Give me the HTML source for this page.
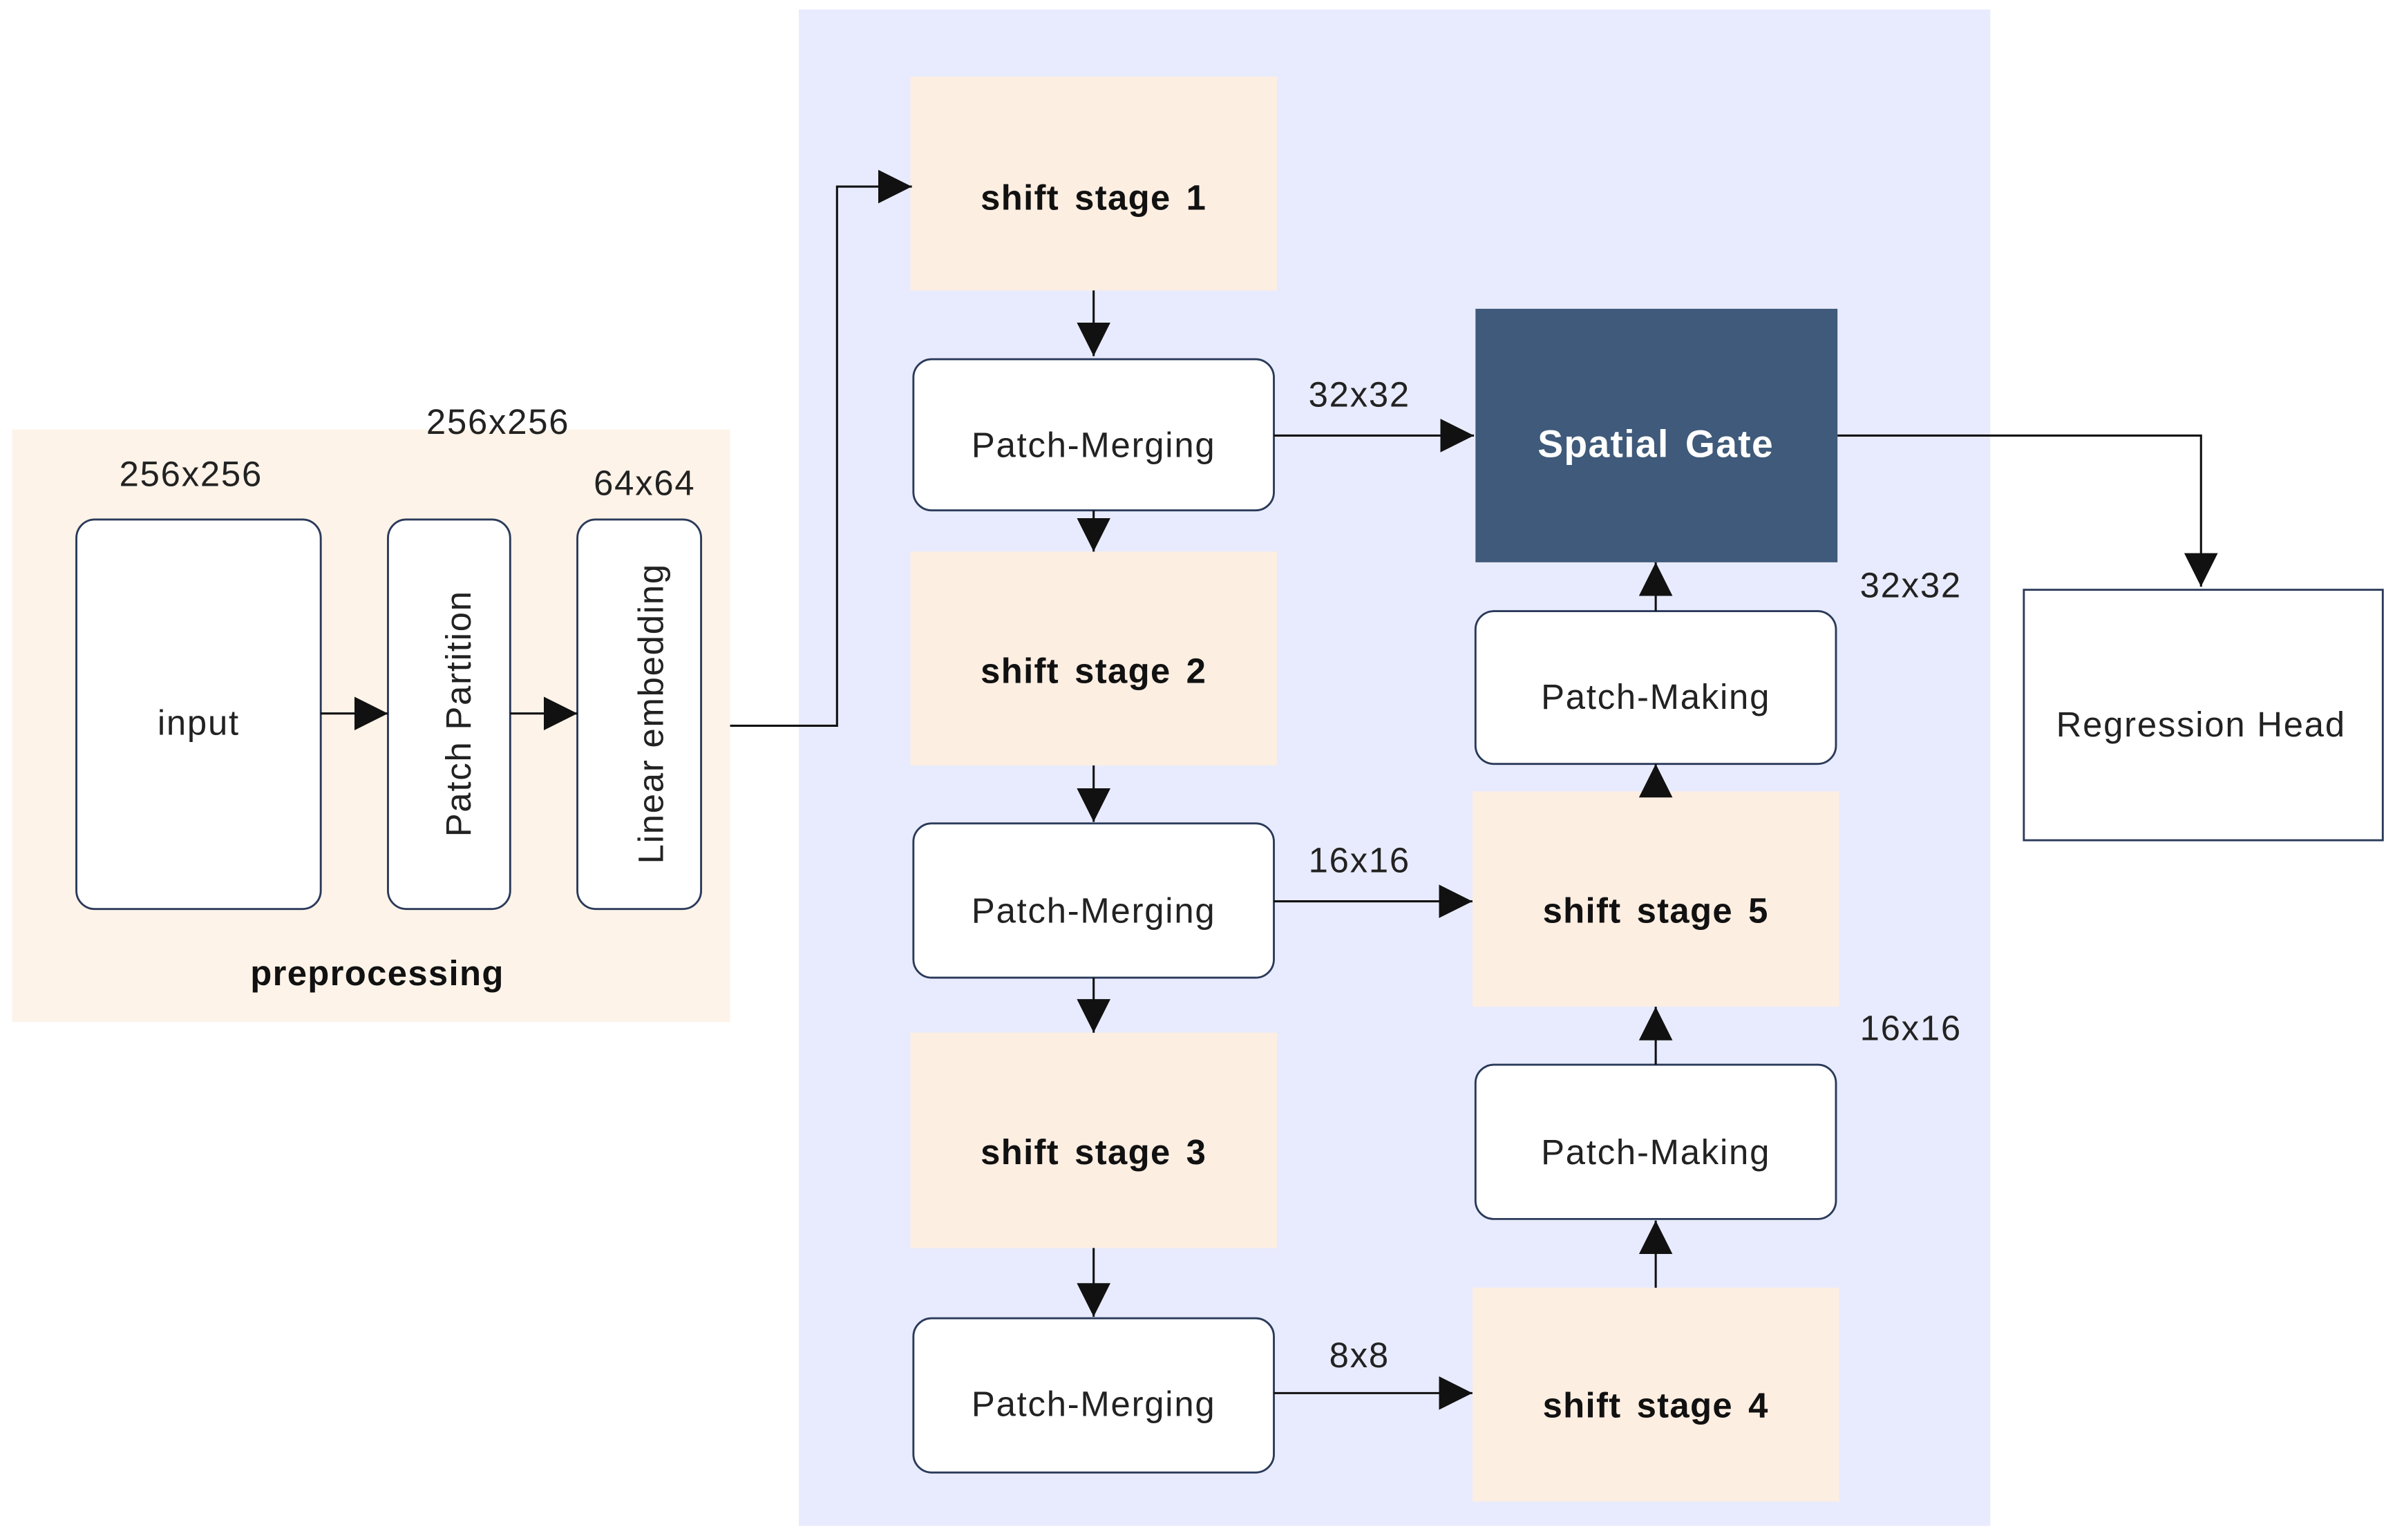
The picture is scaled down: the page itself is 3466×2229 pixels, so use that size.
<!DOCTYPE html>
<html><head><meta charset="utf-8"><style>html,body{margin:0;padding:0;background:#fff}svg{display:block}</style></head>
<body>
<svg width="3466" height="2229" viewBox="0 0 1568 1008" xmlns="http://www.w3.org/2000/svg" font-family="'Liberation Sans', sans-serif">
<defs>
<marker id="b" viewBox="0 0 10 10" markerWidth="22" markerHeight="22" refX="10" refY="5" orient="auto" markerUnits="userSpaceOnUse"><path d="M0,0 L10,5 L0,10 z" fill="#111"/></marker></defs>
<rect x="8" y="281" width="470" height="388" fill="#fdf3e8"/>
<rect x="523" y="6" width="780" height="993" fill="#e8ebfd"/>
<g fill="#fff" stroke="#2a3a5a" stroke-width="1.3">
<rect x="50" y="340" width="160" height="255" rx="12"/>
<rect x="254" y="340" width="80" height="255" rx="12"/>
<rect x="378" y="340" width="81" height="255" rx="12"/>
<rect x="598" y="235" width="236" height="99" rx="12"/>
<rect x="598" y="539" width="236" height="101" rx="12"/>
<rect x="598" y="863" width="236" height="101" rx="12"/>
<rect x="966" y="400" width="236" height="100" rx="12"/>
<rect x="966" y="697" width="236" height="101" rx="12"/>
</g>
<rect x="1325" y="386" width="235" height="164" fill="#fff" stroke="#2a3a5a" stroke-width="1.3"/>
<g fill="#fdeee2">
<rect x="596" y="50" width="240" height="140"/>
<rect x="596" y="361" width="240" height="140"/>
<rect x="596" y="676" width="240" height="141"/>
<rect x="964" y="518" width="240" height="141"/>
<rect x="964" y="843" width="240" height="140"/>
</g>
<rect x="966" y="202" width="237" height="166" fill="#3f5a7a"/>
<g stroke="#111" stroke-width="1.4" fill="none" marker-end="url(#b)">
<path d="M210,467 H254"/><path d="M334,467 H378"/>
<path d="M478,475 H548 V122 H597"/>
<path d="M716,190 V233"/><path d="M716,334 V361"/>
<path d="M716,501 V538"/><path d="M716,640 V676"/>
<path d="M716,817 V862"/>
<path d="M834,285 H965"/><path d="M834,590 H964"/><path d="M834,912 H964"/>
<path d="M1084,843 V799"/><path d="M1084,697 V659"/>
<path d="M1084,518 V500"/><path d="M1084,400 V368"/>
<path d="M1203,285 H1441 V384"/>
</g>
<g font-size="23" fill="#222" text-anchor="middle" letter-spacing="0.8">
<text x="125" y="318">256x256</text>
<text x="326" y="284">256x256</text>
<text x="422" y="324">64x64</text>
<text x="130" y="481">input</text>
<text x="716" y="299">Patch-Merging</text>
<text x="716" y="604">Patch-Merging</text>
<text x="716" y="927">Patch-Merging</text>
<text x="1084" y="464">Patch-Making</text>
<text x="1084" y="762">Patch-Making</text>
<text x="1441" y="482">Regression Head</text>
<text x="890" y="266">32x32</text>
<text x="890" y="571">16x16</text>
<text x="890" y="895">8x8</text>
<text x="1251" y="391">32x32</text>
<text x="1251" y="681">16x16</text>
<text transform="translate(308,467) rotate(-90)">Patch Partition</text>
<text transform="translate(434,467) rotate(-90)">Linear embedding</text>
</g>
<g font-size="23" font-weight="bold" fill="#111" text-anchor="middle" letter-spacing="0.6" word-spacing="3">
<text x="716" y="137">shift stage 1</text>
<text x="716" y="447">shift stage 2</text>
<text x="716" y="762">shift stage 3</text>
<text x="1084" y="928">shift stage 4</text>
<text x="1084" y="604">shift stage 5</text>
<text x="247" y="645" word-spacing="0">preprocessing</text>
<text x="1084" y="299" fill="#fff" font-size="25">Spatial Gate</text>
</g>
</svg>
</body></html>
